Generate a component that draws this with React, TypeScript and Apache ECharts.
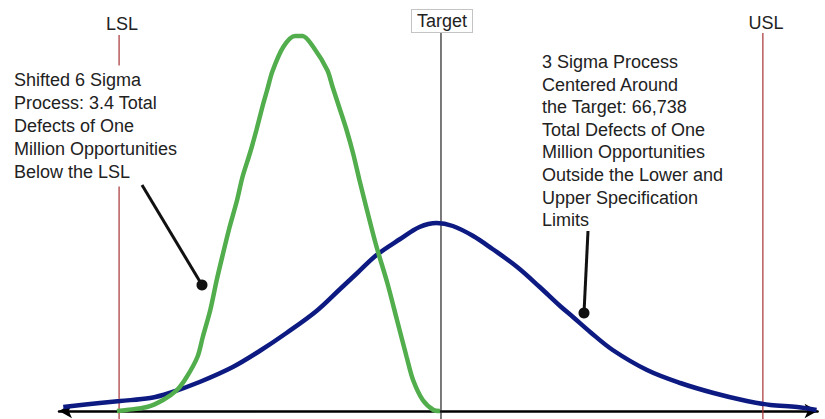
import React, { useEffect, useRef } from "react";
import * as echarts from "echarts";

// x in sigma units of the centred 3-sigma process (Target = 0), y = curve height
const blueX = [-3.52, -3.18, -2.99, -2.71, -2.53, -2.25, -1.94, -1.69, -1.44, -1.16, -0.94, -0.78, -0.6, -0.38, -0.2, -0.04, 0.11, 0.3, 0.48, 0.71, 0.92, 1.11, 1.23, 1.39, 1.6, 1.92, 2.23, 2.54, 2.85, 3.07, 3.32, 3.5];
const blueY = [4, 8, 10, 13, 18, 29, 44, 60, 78, 100, 122, 138, 156, 172, 184, 188, 185, 175, 162, 144, 124, 105, 94, 79, 61, 41, 28, 18, 10, 6, 4, 1];

const greenX = [-3.02, -2.93, -2.74, -2.59, -2.46, -2.37, -2.27, -2.22, -2.15, -2.09, -2.03, -1.97, -1.9, -1.85, -1.78, -1.72, -1.66, -1.62, -1.57, -1.47, -1.36, -1.29, -1.19, -1.06, -1.01, -0.94, -0.88, -0.82, -0.76, -0.69, -0.6, -0.5, -0.41, -0.32, -0.26, -0.17, -0.07, -0.01];
const greenY = [0, 1, 4, 11, 21, 34, 54, 74, 101, 131, 158, 184, 211, 234, 258, 281, 306, 321, 340, 364, 375, 375, 364, 341, 324, 301, 281, 258, 231, 201, 164, 128, 91, 54, 31, 11, 1, 0];

const LSL = -3;
const USL = 3;
const TARGET = 0;
const specLabels = ["LSL", "USL", "Target"];

const leftNote = ["Shifted 6 Sigma", "Process: 3.4 Total", "Defects of One", "Million Opportunities", "Below the LSL"];
const rightNote = ["3 Sigma Process", "Centered Around", "the Target: 66,738", "Total Defects of One", "Million Opportunities", "Outside the Lower and", "Upper Specification", "Limits"];

const FONT = '18px "Liberation Sans", Arial, sans-serif';

export default function App() {
  const ref = useRef<HTMLDivElement>(null);
  useEffect(() => {
    if (!ref.current) return;
    const chart = echarts.init(ref.current, undefined, { renderer: "svg" });
    const vline = (x: number, top: number, color: string) => ({
      type: "line",
      data: [[x, -8], [x, top]],
      symbol: "none",
      silent: true,
      z: 1,
      lineStyle: { color, width: 1.2 },
    });
    chart.setOption({
      animation: false,
      backgroundColor: "#ffffff",
      grid: { left: 59, right: 7.4, top: 11, bottom: 0 },
      xAxis: {
        type: "value",
        min: -3.56,
        max: 3.51,
        axisLine: {
          show: true,
          onZero: true,
          symbol: ["arrow", "arrow"],
          symbolSize: [11, 13],
          lineStyle: { color: "#000", width: 2.5 },
        },
        axisTick: { show: false },
        axisLabel: { show: false },
        splitLine: { show: false },
      },
      yAxis: { type: "value", min: -8, max: 400, show: false, splitLine: { show: false } },
      series: [
        vline(LSL, 376, "#a83232"),
        vline(USL, 378, "#a83232"),
        vline(TARGET, 378, "#222222"),
        {
          type: "line",
          data: blueX.map((x, i) => [x, blueY[i]]),
          symbol: "none",
          smooth: 0.35,
          z: 3,
          lineStyle: { color: "#0c1a82", width: 4.5 },
        },
        {
          type: "line",
          data: greenX.map((x, i) => [x, greenY[i]]),
          symbol: "none",
          smooth: 0.3,
          z: 4,
          lineStyle: { color: "#52ae4c", width: 4.5 },
        },
      ],
      graphic: [
        { type: "text", z: 100, x: 122, y: 24, style: { text: specLabels[0], font: FONT, fill: "#222", align: "center", verticalAlign: "middle" } },
        { type: "text", z: 100, x: 766, y: 23, style: { text: specLabels[1], font: FONT, fill: "#222", align: "center", verticalAlign: "middle" } },
        {
          type: "text", z: 100, x: 442, y: 21,
          style: {
            text: specLabels[2], font: FONT, fill: "#222", align: "center", verticalAlign: "middle",
            backgroundColor: "#fff", borderColor: "#c4c4c4", borderWidth: 1, padding: [2, 5, 2, 5],
          },
        },
        {
          type: "text", z: 100, x: 11, y: 65.5,
          style: {
            text: leftNote.join("\n"), font: FONT, fill: "#222", lineHeight: 23,
            align: "left", verticalAlign: "top", backgroundColor: "#fff", padding: [3, 3, 3, 3],
          },
        },
        {
          type: "text", z: 100, x: 542, y: 50.7,
          style: {
            text: rightNote.join("\n"), font: FONT, fill: "#222", lineHeight: 22.6,
            align: "left", verticalAlign: "top",
          },
        },
        { type: "line", z: 100, shape: { x1: 142, y1: 185, x2: 202, y2: 285 }, style: { stroke: "#111", lineWidth: 3 } },
        { type: "circle", z: 100, shape: { cx: 202, cy: 285, r: 5.5 }, style: { fill: "#111" } },
        { type: "line", z: 100, shape: { x1: 588, y1: 231, x2: 584, y2: 313 }, style: { stroke: "#111", lineWidth: 3 } },
        { type: "circle", z: 100, shape: { cx: 584, cy: 313, r: 5.5 }, style: { fill: "#111" } },
      ],
    });
    return () => chart.dispose();
  }, []);
  return <div ref={ref} style={{ width: 825, height: 419, position: "fixed", left: 0, top: 0 }} />;
}
